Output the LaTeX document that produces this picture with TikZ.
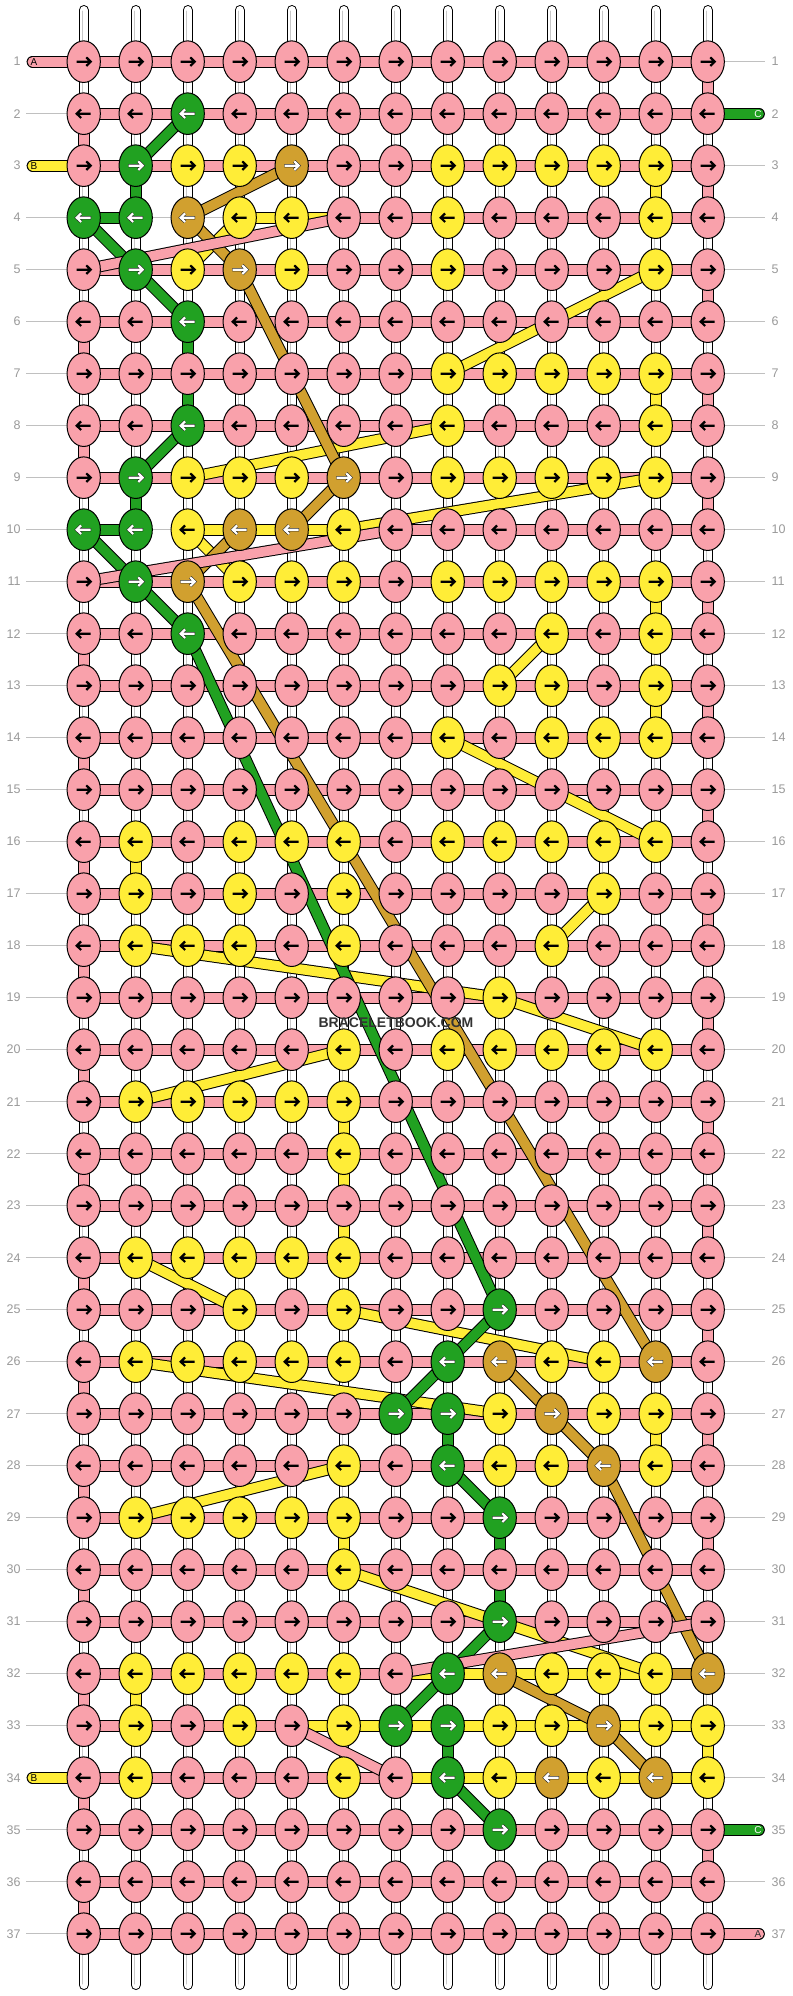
\documentclass[tikz,border=0pt]{standalone}
\usepackage{fontspec}
\setmainfont{Liberation Sans}
\usetikzlibrary{shapes.geometric}
\definecolor{cP}{HTML}{F9A1AB}
\definecolor{cY}{HTML}{FFED37}
\definecolor{cG}{HTML}{21A121}
\definecolor{cD}{HTML}{D1A02F}
\definecolor{rowgray}{HTML}{C0C0C0}
\definecolor{numgray}{HTML}{9A9A9A}
\colorlet{aP}{black}\colorlet{aY}{black}\colorlet{aG}{white}\colorlet{aD}{white}
\colorlet{oP}{cP}\colorlet{oY}{cY}\colorlet{oG}{black!85}\colorlet{oD}{black!85}
\pgfdeclarelayer{grid}
\pgfdeclarelayer{warp}
\pgfdeclarelayer{hgold}
\pgfdeclarelayer{hgreen}
\pgfdeclarelayer{hyellow}
\pgfdeclarelayer{hpink}
\pgfdeclarelayer{vyellow}
\pgfdeclarelayer{vgold}
\pgfdeclarelayer{vgreen}
\pgfdeclarelayer{vpink}
\pgfdeclarelayer{top}
\pgfsetlayers{grid,warp,hgold,hgreen,hyellow,hpink,vyellow,vgold,vgreen,vpink,main,top}
\tikzset{
  knot/.style={ellipse, draw=black, line width=1pt, minimum width=33.3pt, minimum height=41.6pt, inner sep=0pt},
  numlab/.style={text=numgray, font=\fontsize{12.5}{12.5}\selectfont, inner sep=0pt},
  stublab/.style={font=\fontsize{10}{10}\selectfont, inner sep=0pt},
  strandout/.style={line width=11.7pt, draw=black},
  strandin/.style={line width=9.7pt},
}
\newcommand\segs[3]{%
  \begin{pgfonlayer}{#1}%
  \foreach \qa/\qb/\qc/\qd in {#3}{%
    \draw[strandout] (k-\qa-\qb.center) -- (k-\qc-\qd.center);
    \draw[strandin, draw=#2] (k-\qa-\qb.center) -- (k-\qc-\qd.center);
  }%
  \end{pgfonlayer}}
\newcommand\stub[4]{% layer, color, coordinate, knot
  \begin{pgfonlayer}{#1}%
    \draw[strandout, line cap=round] (#3) -- (#4.center);
    \draw[strandin, draw=#2, line cap=round] (#3) -- (#4.center);
  \end{pgfonlayer}}
\begin{document}
\begin{tikzpicture}[x=1pt,y=1pt]
\useasboundingbox (0,0) rectangle (792,1996);
% background, row guide lines and numbers
\begin{pgfonlayer}{grid}
\fill[white] (0,0) rectangle (792,1996);
\foreach \r in {1,...,37}{
  \pgfmathsetmacro\yy{1986.3-52*\r}
  \coordinate (gl-\r) at (26,\yy);
  \coordinate (gr-\r) at (765,\yy);
  \draw[rowgray, line width=1pt] (gl-\r) -- (gr-\r);
  \node[numlab, anchor=east] (ln-\r) at (20.7,\yy) {\r};
  \node[numlab, anchor=west] (rn-\r) at (771.5,\yy) {\r};
}
\end{pgfonlayer}
% warp strands
\begin{pgfonlayer}{warp}
\foreach \cc in {1,...,13}{
  \pgfmathsetmacro\xx{31.7+52*\cc}
  \coordinate (wt-\cc) at (\xx,1985.8);
  \coordinate (wb-\cc) at (\xx,11.1);
  \draw[line width=10.3pt, line cap=round] (wt-\cc) -- (wb-\cc);
  \draw[line width=8.3pt, white, line cap=round] (wt-\cc) -- (wb-\cc);
  \draw[line width=1.3pt, black!22, line cap=round] ([xshift=-1.3pt,yshift=-1pt]wt-\cc) -- ([xshift=-1.3pt,yshift=1pt]wb-\cc);
}
\end{pgfonlayer}
% knots
\foreach \r/\row in {
1/{P,P,P,P,P,P,P,P,P,P,P,P,P},
2/{P,P,G,P,P,P,P,P,P,P,P,P,P},
3/{P,G,Y,Y,D,P,P,Y,Y,Y,Y,Y,P},
4/{G,G,D,Y,Y,P,P,Y,P,P,P,Y,P},
5/{P,G,Y,D,Y,P,P,Y,P,P,P,Y,P},
6/{P,P,G,P,P,P,P,P,P,P,P,P,P},
7/{P,P,P,P,P,P,P,Y,Y,Y,Y,Y,P},
8/{P,P,G,P,P,P,P,Y,P,P,P,Y,P},
9/{P,G,Y,Y,Y,D,P,Y,Y,Y,Y,Y,P},
10/{G,G,Y,D,D,Y,P,P,P,P,P,P,P},
11/{P,G,D,Y,Y,Y,P,Y,Y,Y,Y,Y,P},
12/{P,P,G,P,P,P,P,P,P,Y,P,Y,P},
13/{P,P,P,P,P,P,P,P,Y,Y,P,Y,P},
14/{P,P,P,P,P,P,P,Y,P,Y,Y,Y,P},
15/{P,P,P,P,P,P,P,P,P,P,P,P,P},
16/{P,Y,P,Y,Y,Y,P,Y,Y,Y,Y,Y,P},
17/{P,Y,P,Y,P,Y,P,P,P,P,Y,P,P},
18/{P,Y,Y,Y,P,Y,P,P,P,Y,P,P,P},
19/{P,P,P,P,P,P,P,P,Y,P,P,P,P},
20/{P,P,P,P,P,Y,P,Y,Y,Y,Y,Y,P},
21/{P,Y,Y,Y,Y,Y,P,P,P,P,P,P,P},
22/{P,P,P,P,P,Y,P,P,P,P,P,P,P},
23/{P,P,P,P,P,P,P,P,P,P,P,P,P},
24/{P,Y,Y,Y,Y,Y,P,P,P,P,P,P,P},
25/{P,P,P,Y,P,Y,P,P,G,P,P,P,P},
26/{P,Y,Y,Y,Y,Y,P,G,D,Y,Y,D,P},
27/{P,P,P,P,P,P,G,G,Y,D,Y,Y,P},
28/{P,P,P,P,P,Y,P,G,Y,Y,D,Y,P},
29/{P,Y,Y,Y,Y,Y,P,P,G,P,P,P,P},
30/{P,P,P,P,P,Y,P,P,P,P,P,P,P},
31/{P,P,P,P,P,P,P,P,G,P,P,P,P},
32/{P,Y,Y,Y,Y,Y,P,G,D,Y,Y,Y,D},
33/{P,Y,P,Y,P,Y,G,G,Y,Y,D,Y,Y},
34/{P,Y,P,P,P,Y,P,G,Y,D,Y,D,Y},
35/{P,P,P,P,P,P,P,P,G,P,P,P,P},
36/{P,P,P,P,P,P,P,P,P,P,P,P,P},
37/{P,P,P,P,P,P,P,P,P,P,P,P,P}}{
  \foreach \k [count=\cc] in \row {
    \pgfmathsetmacro\xx{31.7+52*\cc}
    \pgfmathsetmacro\yy{1986.3-52*\r}
    \pgfmathsetmacro\dir{int(2*mod(\r,2)-1)}
    \edef\kc{c\k}\edef\ac{a\k}\edef\oc{o\k}
    \node[knot, fill=\kc] (k-\r-\cc) at (\xx,\yy) {};
    \begin{scope}[shift={(\xx,\yy)}, xscale=\dir]
      \draw[draw=\oc, line width=3.3pt, line join=miter] (-7.4,0) -- (6,0) (2.6,4.3) -- (7,0) -- (2.6,-4.3);
      \draw[draw=\ac, line width=2.2pt, line join=miter] (-7,0) -- (6,0) (2.6,4.3) -- (7,0) -- (2.6,-4.3);
    \end{scope}
  }
}
% thread ends
\coordinate (tl-1) at (32.5,1934.3);
\coordinate (tl-3) at (32.5,1830.3);
\coordinate (tl-34) at (32.5,218.3);
\coordinate (tr-2) at (759,1882.3);
\coordinate (tr-35) at (759,166.3);
\coordinate (tr-37) at (759,62.3);
\stub{hpink}{cP}{tl-1}{k-1-1}
\stub{hyellow}{cY}{tl-3}{k-3-1}
\stub{hyellow}{cY}{tl-34}{k-34-1}
\stub{hgreen}{cG}{tr-2}{k-2-13}
\stub{hgreen}{cG}{tr-35}{k-35-13}
\stub{hpink}{cP}{tr-37}{k-37-13}
% ---------- pink (A)
\segs{hpink}{cP}{1/1/1/13,2/1/2/13,3/1/3/13,4/6/4/13,5/1/5/13,6/1/6/13,7/1/7/13,8/1/8/13,9/1/9/13,10/7/10/13,
11/1/11/13,12/1/12/13,13/1/13/13,14/1/14/13,15/1/15/13,16/1/16/13,17/1/17/13,18/1/18/13,19/1/19/13,20/1/20/13,
21/1/21/13,22/1/22/13,23/1/23/13,24/1/24/13,25/1/25/13,26/1/26/13,27/1/27/13,28/1/28/13,29/1/29/13,30/1/30/13,
31/1/31/13,32/1/32/7,33/1/33/5,34/1/34/7,35/1/35/13,36/1/36/13,37/1/37/13}
\segs{vpink}{cP}{1/13/2/13,2/1/3/1,3/13/4/13,4/6/5/1,5/13/6/13,6/1/7/1,7/13/8/13,8/1/9/1,9/13/10/13,10/7/11/1,
11/13/12/13,12/1/13/1,13/13/14/13,14/1/15/1,15/13/16/13,16/1/17/1,17/13/18/13,18/1/19/1,19/13/20/13,20/1/21/1,
21/13/22/13,22/1/23/1,23/13/24/13,24/1/25/1,25/13/26/13,26/1/27/1,27/13/28/13,28/1/29/1,29/13/30/13,30/1/31/1,
31/13/32/7,32/1/33/1,33/5/34/7,34/1/35/1,35/13/36/13,36/1/37/1}
% ---------- green (C)
\segs{hgreen}{cG}{2/13/2/3,4/2/4/1,10/2/10/1,27/7/27/8,33/7/33/8,35/9/35/13}
\segs{vgreen}{cG}{2/3/3/2,3/2/4/2,4/1/5/2,5/2/6/3,6/3/7/3,7/3/8/3,8/3/9/2,9/2/10/2,10/1/11/2,11/2/12/3,
12/3/25/9,25/9/26/8,26/8/27/7,27/8/28/8,28/8/29/9,29/9/30/9,30/9/31/9,31/9/32/8,32/8/33/7,33/8/34/8,34/8/35/9}
% ---------- gold
\segs{hgold}{cD}{10/5/10/4,26/12/26/9,32/13/32/9,34/12/34/10}
\segs{vgold}{cD}{3/5/4/3,4/3/5/4,5/4/9/6,9/6/10/5,10/4/11/3,11/3/26/12,26/9/27/10,27/10/28/11,28/11/32/13,32/9/33/11,33/11/34/12}
% ---------- yellow (B)
\segs{hyellow}{cY}{3/1/3/12,4/12/4/4,5/3/5/12,7/8/7/12,8/12/8/8,9/3/9/12,10/6/10/3,11/4/11/12,12/12/12/10,13/9/13/12,
14/12/14/8,16/12/16/2,17/2/17/11,18/10/18/2,20/12/20/6,21/2/21/6,24/6/24/2,25/4/25/6,26/11/26/2,27/9/27/12,
28/12/28/6,29/2/29/6,32/12/32/2,33/2/33/13,34/13/34/1}
\segs{vyellow}{cY}{3/12/4/12,4/4/5/3,5/12/7/8,7/12/8/12,8/8/9/3,9/12/10/6,10/3/11/4,11/12/12/12,12/10/13/9,13/12/14/12,
14/8/16/12,16/2/17/2,17/11/18/10,18/2/19/9,19/9/20/12,20/6/21/2,21/6/22/6,22/6/23/6,23/6/24/6,24/2/25/4,
25/6/26/11,26/2/27/9,27/12/28/12,28/6/29/2,29/6/30/6,30/6/32/12,32/2/33/2,33/13/34/13}
% labels on top
\begin{pgfonlayer}{top}
\node[stublab] (la-1) at (34,1934.3) {A};
\node[stublab] (la-3) at (34,1830.3) {B};
\node[stublab] (la-34) at (34,218.3) {B};
\node[stublab, text=white] (ra-2) at (758,1882.3) {C};
\node[stublab, text=white] (ra-35) at (758,166.3) {C};
\node[stublab, text=black!80] (ra-37) at (758,62.3) {A};
\node[font=\bfseries\fontsize{14}{14}\selectfont, text=black!80, inner sep=0pt] (wm) at (396,973) {BRACELETBOOK.COM};
\end{pgfonlayer}
\end{tikzpicture}
\end{document}
